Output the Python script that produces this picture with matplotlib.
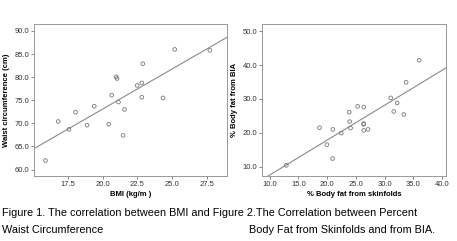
import numpy as np
import matplotlib
matplotlib.use('Agg')
import matplotlib.pyplot as plt

plt.rcParams['font.family'] = ['Liberation Sans', 'DejaVu Sans']

# Figura 1 - IMC x circunferencia da cintura
bmi = [15.92, 16.83, 17.60, 18.07, 18.89, 19.41, 20.44, 20.66, 20.97, 21.04,
       21.14, 21.47, 21.57, 22.48, 22.81, 22.81, 22.88, 24.32, 25.16, 27.67]
waist = [61.95, 70.4, 68.7, 72.4, 69.6, 73.7, 69.8, 76.1, 80.05, 79.7,
         74.6, 67.4, 73.0, 78.2, 78.75, 75.65, 82.9, 75.5, 86.0, 85.8]

# Figura 2 - gordura por dobras cutaneas x BIA
skinfold = [12.9, 18.68, 19.96, 20.95, 21.0, 22.46, 23.86, 23.92, 24.09, 25.32,
            26.37, 26.37, 26.37, 26.37, 27.12, 31.08, 31.6, 32.19, 33.35, 33.76, 36.03]
bia = [10.4, 21.5, 16.5, 12.4, 21.0, 19.9, 26.1, 23.3, 21.4, 27.8,
       27.6, 22.7, 22.5, 20.7, 21.0, 30.3, 26.3, 28.8, 25.4, 34.9, 41.4]

xt1 = [17.5, 20.0, 22.5, 25.0, 27.5]
yt1 = [60.0, 65.0, 70.0, 75.0, 80.0, 85.0, 90.0]
xt2 = [10.0, 15.0, 20.0, 25.0, 30.0, 35.0, 40.0]
yt2 = [10.0, 20.0, 30.0, 40.0, 50.0]

cinza = '#8a8a8a'

fig = plt.figure(figsize=(4.57, 2.41), dpi=100)
ax1 = fig.add_axes([0.0744, 0.2697, 0.4223, 0.6307])
ax2 = fig.add_axes([0.5733, 0.2697, 0.4026, 0.6307])


def desenha(ax, x, y, xlim, ylim, xt, yt, xlabel, ylabel):
    ax.scatter(x, y, s=7, facecolors='none', edgecolors='#777777', linewidths=0.6, zorder=3)
    a, b = np.polyfit(x, y, 1)
    xx = np.array(xlim)
    ax.plot(xx, a * xx + b, color=cinza, lw=0.8)
    ax.set_xlim(xlim)
    ax.set_ylim(ylim)
    ax.set_xticks(xt)
    ax.set_yticks(yt)
    ax.set_xticklabels(['%.1f' % v for v in xt])
    ax.set_yticklabels(['%.1f' % v for v in yt])
    ax.tick_params(labelsize=5.5, length=2, width=0.5, color='#555555', pad=1.5,
                   labelcolor='#333333')
    for s in ax.spines.values():
        s.set_color('#999999')
        s.set_linewidth(0.7)
    ax.set_xlabel(xlabel, fontsize=5.5, fontweight='bold', labelpad=2)
    ax.set_ylabel(ylabel, fontsize=5.5, fontweight='bold', labelpad=3)


desenha(ax1, bmi, waist, (15.1, 28.9), (58.6, 91.5), xt1, yt1,
        'BMI (kg/m )', 'Waist circumference (cm)')
desenha(ax2, skinfold, bia, (8.66, 40.7), (7.25, 52.1), xt2, yt2,
        '% Body fat from skinfolds', '% Body fat from BIA')

fig.text(0.004, 0.116, 'Figure 1. The correlation between BMI and Figure 2.The Correlation between Percent',
         fontsize=7.8, va='center')
fig.text(0.004, 0.046, 'Waist Circumference', fontsize=7.8, va='center')
fig.text(0.545, 0.046, 'Body Fat from Skinfolds and from BIA.', fontsize=7.8, va='center')

fig.savefig('out.png', dpi=100)
